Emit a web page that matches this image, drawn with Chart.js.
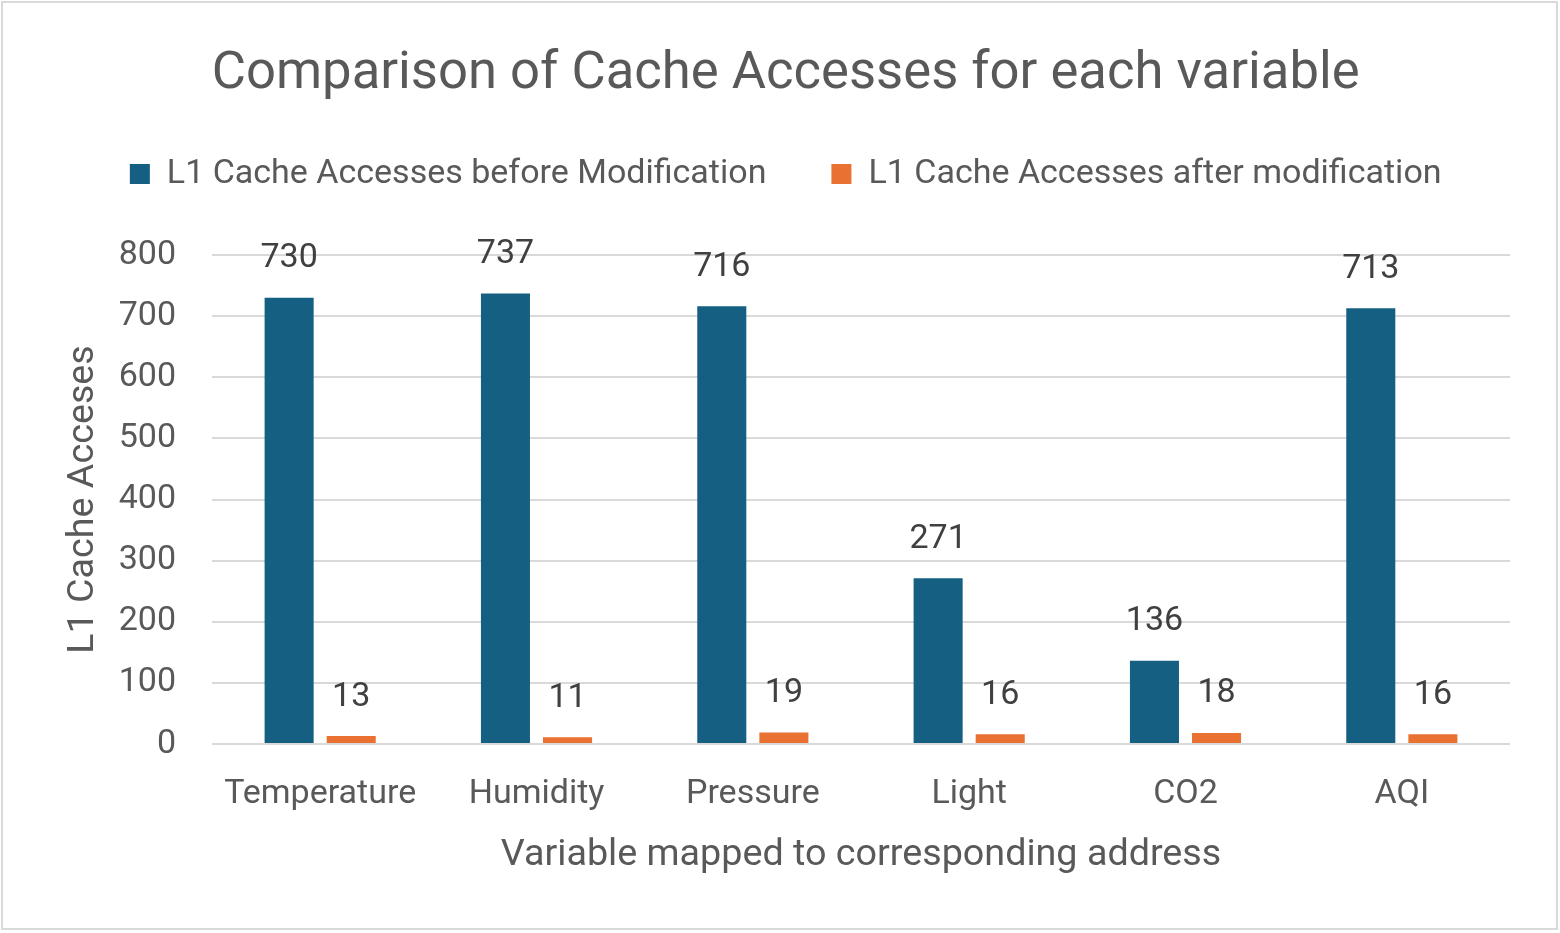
<!DOCTYPE html>
<html>
<head>
<meta charset="utf-8">
<script src="https://cdn.jsdelivr.net/npm/chart.js@4"></script>
<style>
  html, body { margin: 0; padding: 0; background: #ffffff; }
  #wrap { position: absolute; left: 0; top: 0; width: 1560px; height: 933px; }
</style>
</head>
<body>
<div id="wrap"><canvas id="c" width="1560" height="933"></canvas></div>
<script>
const categories = ['Temperature', 'Humidity', 'Pressure', 'Light', 'CO2', 'AQI'];
const beforeValues = [730, 737, 716, 271, 136, 713];
const afterValues = [13, 11, 19, 16, 18, 16];
const seriesNames = ['L1 Cache Accesses before Modification', 'L1 Cache Accesses after modification'];
const titleText = 'Comparison of Cache Accesses for each variable';
const xTitle = 'Variable mapped to corresponding address';
const yTitle = 'L1 Cache Acceses';

const FONT = 'Roboto';

const frame = {
  id: 'frame',
  beforeDraw(chart) {
    const ctx = chart.ctx;
    ctx.save();
    ctx.fillStyle = '#ffffff';
    ctx.fillRect(0, 0, chart.width, chart.height);
    ctx.strokeStyle = '#d9d9d9';
    ctx.lineWidth = 2;
    ctx.strokeRect(2, 2, 1555, 927);
    ctx.restore();
  }
};

// extra space below the legend (legend text position stays put)
const legendSpace = {
  id: 'legendSpace',
  beforeLayout(chart) {
    const lg = chart.legend;
    if (lg && !lg._patched) {
      const orig = lg.fit;
      lg.fit = function () { orig.call(this); this.height += 54; };
      lg._patched = true;
    }
  }
};

const valueLabels = {
  id: 'valueLabels',
  afterDatasetsDraw(chart) {
    const ctx = chart.ctx;
    ctx.save();
    ctx.font = '34px ' + FONT;
    ctx.fillStyle = '#404040';
    ctx.textAlign = 'center';
    ctx.textBaseline = 'middle';
    chart.data.datasets.forEach((ds, i) => {
      const meta = chart.getDatasetMeta(i);
      meta.data.forEach((el, j) => {
        ctx.fillText(String(ds.data[j]), el.x, el.y - 39);
      });
    });
    ctx.restore();
  }
};

new Chart(document.getElementById('c'), {
  type: 'bar',
  data: {
    labels: categories,
    datasets: [
      { label: seriesNames[0], data: beforeValues, backgroundColor: '#156082',
        categoryPercentage: 0.574, barPercentage: 0.79 },
      { label: seriesNames[1], data: afterValues, backgroundColor: '#E97132',
        categoryPercentage: 0.574, barPercentage: 0.79 }
    ]
  },
  options: {
    responsive: false,
    animation: false,
    devicePixelRatio: 1,
    layout: { padding: { left: 61.4, right: 50, top: 10, bottom: 55 } },
    plugins: {
      tooltip: { enabled: false },
      title: {
        display: true,
        text: titleText,
        color: '#595959',
        font: { family: FONT, size: 52.6, weight: 'normal' },
        padding: { top: 33.4, bottom: -14.5 }
      },
      legend: {
        position: 'top',
        labels: {
          color: '#595959',
          font: { family: FONT, size: 34 },
          boxWidth: 20,
          boxHeight: 20,
          padding: 65
        }
      }
    },
    scales: {
      x: {
        grid: { display: false, drawTicks: false },
        border: { display: false },
        ticks: { color: '#595959', font: { family: FONT, size: 34 }, padding: 30 },
        title: { display: true, text: xTitle, color: '#595959',
          font: { family: FONT, size: 37.7 }, padding: { top: 10, bottom: 0 } },
        afterFit(scale) { scale.height = 134; }
      },
      y: {
        min: 0, max: 800,
        ticks: { stepSize: 100, color: '#595959', font: { family: FONT, size: 34 }, padding: 36 },
        grid: { color: '#d9d9d9', lineWidth: 2, drawTicks: false },
        border: { display: false },
        title: { display: true, text: yTitle, color: '#595959',
          font: { family: FONT, size: 37.7 }, padding: { top: 0, bottom: 0 } },
        afterFit(scale) { scale.width = 150.6; }
      }
    }
  },
  plugins: [frame, legendSpace, valueLabels]
});
</script>
</body>
</html>
